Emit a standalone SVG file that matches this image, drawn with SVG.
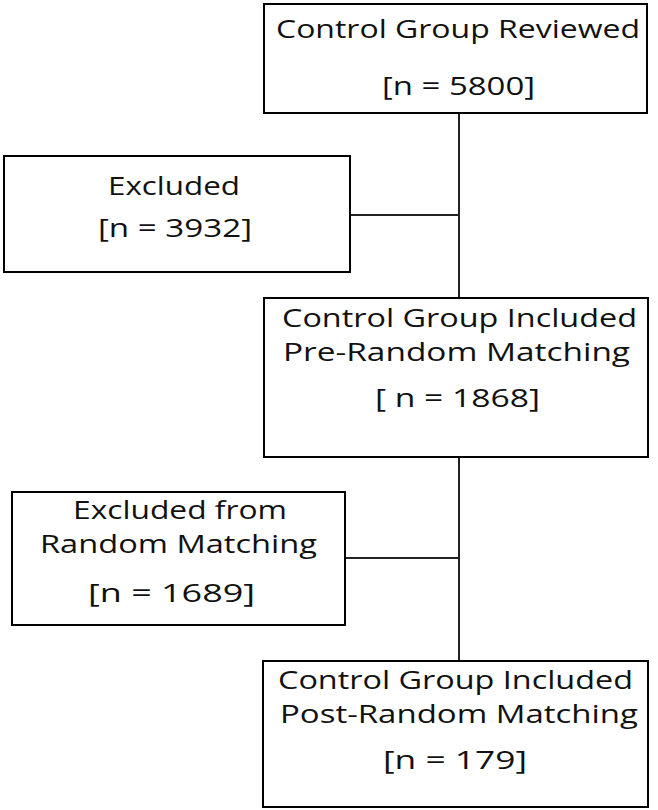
<svg xmlns="http://www.w3.org/2000/svg" width="658" height="810" viewBox="0 0 658 810">
<style>
.box{fill:#fff;stroke:#000;stroke-width:2}
.t{font-family:"Open Sans","Liberation Sans",sans-serif;font-size:25px;fill:#111}
.c{stroke:#222;stroke-width:2;fill:none}
</style>
<rect width="658" height="810" fill="#fff"/>
<g id="connectors">
<line class="c" x1="459" y1="113" x2="459" y2="298"/>
<line class="c" x1="350" y1="215" x2="459" y2="215"/>
<line class="c" x1="459" y1="457" x2="459" y2="661"/>
<line class="c" x1="345" y1="558" x2="459" y2="558"/>
</g>
<g id="reviewed">
<rect class="box" x="264" y="4" width="383" height="109"/>
<text class="t" x="276" y="38" textLength="364" lengthAdjust="spacingAndGlyphs">Control Group Reviewed</text>
<text class="t" x="382" y="95" textLength="153" lengthAdjust="spacingAndGlyphs">[n = 5800]</text>
</g>
<g id="excluded1">
<rect class="box" x="4" y="156" width="346" height="116"/>
<text class="t" x="108" y="195" textLength="132" lengthAdjust="spacingAndGlyphs">Excluded</text>
<text class="t" x="98" y="237" textLength="154" lengthAdjust="spacingAndGlyphs">[n = 3932]</text>
</g>
<g id="pre">
<rect class="box" x="264" y="298" width="384" height="159"/>
<text class="t" x="282" y="327" textLength="355" lengthAdjust="spacingAndGlyphs">Control Group Included</text>
<text class="t" x="283" y="361" textLength="347" lengthAdjust="spacingAndGlyphs">Pre-Random  Matching</text>
<text class="t" x="375" y="407" textLength="165" lengthAdjust="spacingAndGlyphs">[ n = 1868]</text>
</g>
<g id="excluded2">
<rect class="box" x="12" y="492" width="333" height="133"/>
<text class="t" x="73" y="519" textLength="214" lengthAdjust="spacingAndGlyphs">Excluded from</text>
<text class="t" x="40" y="553" textLength="277" lengthAdjust="spacingAndGlyphs">Random Matching</text>
<text class="t" x="88" y="602" textLength="167" lengthAdjust="spacingAndGlyphs">[n = 1689]</text>
</g>
<g id="post">
<rect class="box" x="263" y="661" width="385" height="146"/>
<text class="t" x="278" y="689" textLength="355" lengthAdjust="spacingAndGlyphs">Control Group Included</text>
<text class="t" x="280" y="723" textLength="358" lengthAdjust="spacingAndGlyphs">Post-Random Matching</text>
<text class="t" x="383" y="769" textLength="144" lengthAdjust="spacingAndGlyphs">[n = 179]</text>
</g>
</svg>
